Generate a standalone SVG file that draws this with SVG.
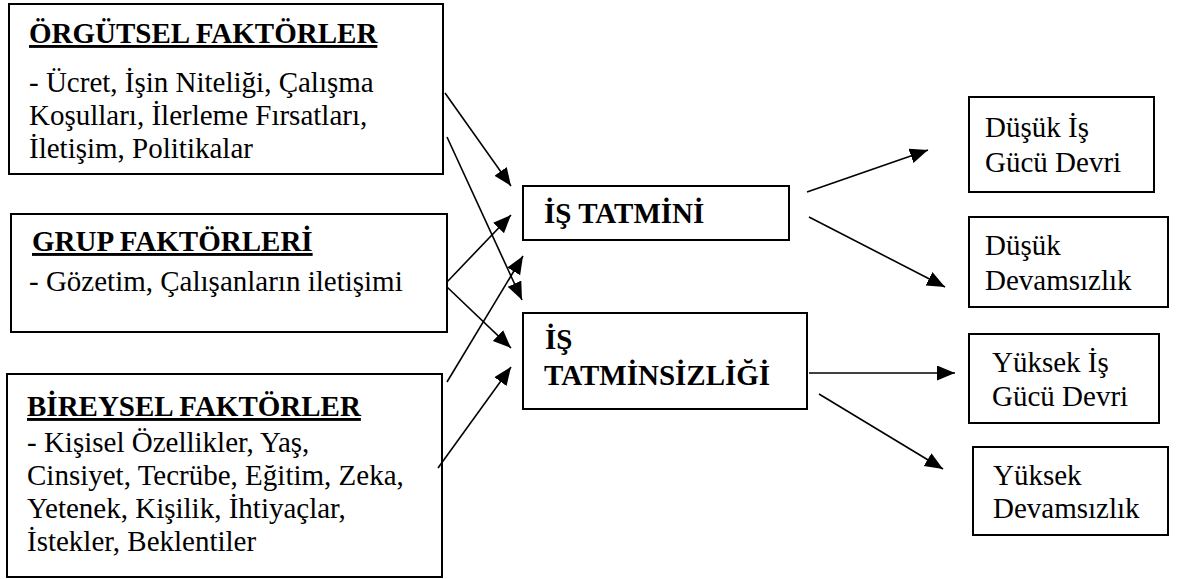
<svg xmlns="http://www.w3.org/2000/svg" width="1179" height="579" viewBox="0 0 1179 579">
<style>
.box{fill:#fff;stroke:#000;stroke-width:2}
.c{stroke:#000;stroke-width:1.6;fill:none}
</style>
<defs>
<marker id="ah" markerUnits="userSpaceOnUse" markerWidth="20" markerHeight="16" refX="18" refY="7.5" orient="auto">
<path d="M0,0 L18,7.5 L0,15 z" fill="#000"/>
</marker>
</defs>
<rect width="1179" height="579" fill="#fff"/>
<g id="orgutsel">
<rect class="box" x="9" y="4" width="434" height="170"/>
<text font-family="Liberation Serif" font-size="29" font-weight="bold" text-decoration="underline" x="29" y="43">ÖRGÜTSEL FAKTÖRLER</text>
<text font-family="Liberation Serif" font-size="29" x="29" y="92">- Ücret, İşin Niteliği, Çalışma</text>
<text font-family="Liberation Serif" font-size="29" x="29" y="125">Koşulları, İlerleme Fırsatları,</text>
<text font-family="Liberation Serif" font-size="29" x="29" y="158">İletişim, Politikalar</text>
</g>
<g id="grup">
<rect class="box" x="11" y="214" width="436" height="118"/>
<text font-family="Liberation Serif" font-size="29" font-weight="bold" text-decoration="underline" x="32" y="251">GRUP FAKTÖRLERİ</text>
<text font-family="Liberation Serif" font-size="29" x="29" y="291">- Gözetim, Çalışanların iletişimi</text>
</g>
<g id="bireysel">
<rect class="box" x="7" y="374" width="435" height="203"/>
<text font-family="Liberation Serif" font-size="29" font-weight="bold" text-decoration="underline" x="27" y="416">BİREYSEL FAKTÖRLER</text>
<text font-family="Liberation Serif" font-size="29" x="27" y="452">- Kişisel Özellikler, Yaş,</text>
<text font-family="Liberation Serif" font-size="29" x="27" y="485">Cinsiyet, Tecrübe, Eğitim, Zeka,</text>
<text font-family="Liberation Serif" font-size="29" x="27" y="518">Yetenek, Kişilik, İhtiyaçlar,</text>
<text font-family="Liberation Serif" font-size="29" x="27" y="551">İstekler, Beklentiler</text>
</g>
<g id="tatmin">
<rect class="box" x="523" y="186" width="266" height="54"/>
<text font-family="Liberation Serif" font-size="29" font-weight="bold" x="544" y="223">İŞ TATMİNİ</text>
</g>
<g id="tatminsizlik">
<rect class="box" x="523" y="313" width="284" height="96"/>
<text font-family="Liberation Serif" font-size="29" font-weight="bold" x="545" y="349">İŞ</text>
<text font-family="Liberation Serif" font-size="29" font-weight="bold" x="544" y="385">TATMİNSİZLİĞİ</text>
</g>
<g id="dusuk-devir">
<rect class="box" x="969" y="97" width="185" height="95"/>
<text font-family="Liberation Serif" font-size="29" x="985" y="137">Düşük İş</text>
<text font-family="Liberation Serif" font-size="29" x="985" y="172">Gücü Devri</text>
</g>
<g id="dusuk-devamsizlik">
<rect class="box" x="969" y="217" width="199" height="90"/>
<text font-family="Liberation Serif" font-size="29" x="985" y="255">Düşük</text>
<text font-family="Liberation Serif" font-size="29" x="985" y="290">Devamsızlık</text>
</g>
<g id="yuksek-devir">
<rect class="box" x="969" y="334" width="190" height="89"/>
<text font-family="Liberation Serif" font-size="29" x="992" y="372">Yüksek İş</text>
<text font-family="Liberation Serif" font-size="29" x="992" y="406">Gücü Devri</text>
</g>
<g id="yuksek-devamsizlik">
<rect class="box" x="973" y="447" width="195" height="88"/>
<text font-family="Liberation Serif" font-size="29" x="993" y="485">Yüksek</text>
<text font-family="Liberation Serif" font-size="29" x="993" y="518">Devamsızlık</text>
</g>
<g id="connectors">
<line class="c" marker-end="url(#ah)" x1="445" y1="93" x2="511" y2="186"/>
<line class="c" marker-end="url(#ah)" x1="447" y1="137" x2="522" y2="300"/>
<line class="c" marker-end="url(#ah)" x1="447" y1="282" x2="511" y2="215"/>
<line class="c" marker-end="url(#ah)" x1="447" y1="287" x2="511" y2="348"/>
<line class="c" marker-end="url(#ah)" x1="447" y1="382" x2="523" y2="256"/>
<line class="c" marker-end="url(#ah)" x1="438" y1="468" x2="511" y2="367"/>
<line class="c" marker-end="url(#ah)" x1="807" y1="192" x2="928" y2="150"/>
<line class="c" marker-end="url(#ah)" x1="809" y1="217" x2="945" y2="287"/>
<line class="c" marker-end="url(#ah)" x1="809" y1="373" x2="955" y2="373"/>
<line class="c" marker-end="url(#ah)" x1="819" y1="394" x2="943" y2="469"/>
</g>
</svg>
